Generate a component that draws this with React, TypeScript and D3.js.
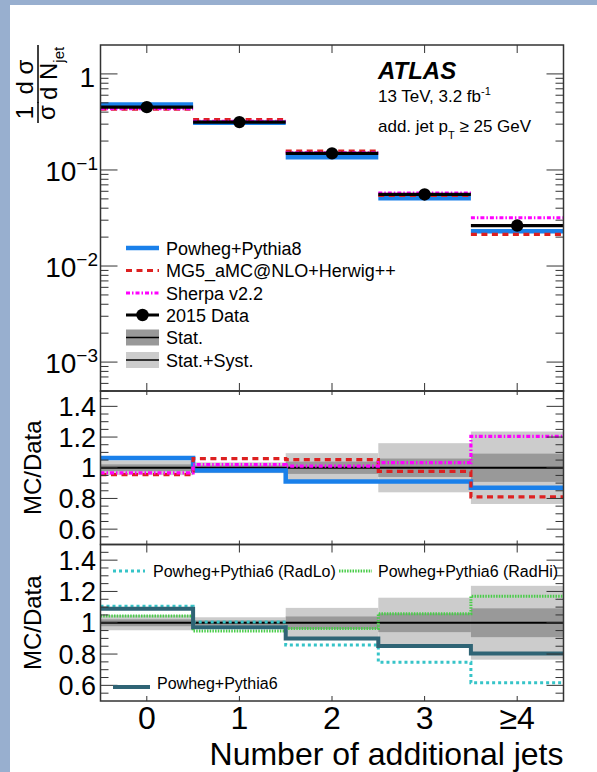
import React from "react";
import * as d3 from "d3";

// ---------------- data ----------------
const bins = ["0", "1", "2", "3", "≥4"];
const binCenters = [0, 1, 2, 3, 4];
const dataValues = [0.451, 0.315, 0.149, 0.0556, 0.0264];
const powhegPythia8Ratio = [1.063, 0.982, 0.911, 0.911, 0.87];
const mg5HerwigRatio = [0.955, 1.06, 1.053, 0.976, 0.81];
const sherpaRatio = [0.966, 1.02, 1.01, 1.034, 1.205];
const statUnc = [0.022, 0.015, 0.04, 0.06, 0.092];
const totalUnc = [0.048, 0.035, 0.095, 0.16, 0.236];
const powhegPythia6Ratio = [1.09, 0.972, 0.9, 0.851, 0.803];
const radLoRatio = [1.105, 1.004, 0.858, 0.747, 0.617];
const radHiRatio = [1.043, 0.947, 0.963, 1.057, 1.17];
const topYTicks = [1, 0.1, 0.01, 0.001];
const topYTickExp = ["", "−1", "−2", "−3"];
const ratioTicks = [0.6, 0.8, 1, 1.2, 1.4];
const ratioTickLabels = ["0.6", "0.8", "1", "1.2", "1.4"];

// ---------------- styles ----------------
const FONT = "'Liberation Sans', Arial, Helvetica, sans-serif";
const C_BLUE = "#1a80ea";
const C_RED = "#dd2020";
const C_MAG = "#ff00ff";
const C_TEAL = "#2f6475";
const C_CYAN = "#36c4c8";
const C_GREEN = "#48cc48";
const C_STAT = "#999999";
const C_SYST = "#cccccc";
const AX = "#333333";

const X0 = 100.5;
const X1 = 563.5;
const TOP = [45, 391];
const MID = [391, 544.5];
const BOT = [544.5, 701];

const x = d3.scaleLinear().domain([-0.5, 4.5]).range([X0, X1]);
const yTop = d3.scaleLog().domain([5e-4, 2]).range([TOP[1], TOP[0]]);
const yMid = d3.scaleLinear().domain([0.5, 1.5]).range([MID[1], MID[0]]);
const yBot = d3.scaleLinear().domain([0.5, 1.5]).range([BOT[1], BOT[0]]);

const logTicks: { v: number; major: boolean }[] = [];
for (let e = -4; e <= 0; e++) {
  for (let k = 1; k <= 9; k++) {
    const v = k * Math.pow(10, e);
    if (v >= 5e-4 && v < 2) logTicks.push({ v, major: k === 1 });
  }
}
const linTicks: { v: number; major: boolean }[] = [];
for (let i = 11; i <= 29; i++) linTicks.push({ v: i * 0.05, major: i % 4 === 0 });

function stepPath(vals: number[], y: (v: number) => number) {
  const pts: [number, number][] = vals.map((v, i) => [x(binCenters[i] - 0.5), y(v)]);
  pts.push([x(binCenters[vals.length - 1] + 0.5), y(vals[vals.length - 1])]);
  return d3.line().curve(d3.curveStepAfter)(pts) || "";
}

function YTicks({ ticks, y, y0, y1 }: { ticks: { v: number; major: boolean }[]; y: (v: number) => number; y0: number; y1: number }) {
  return (
    <g stroke={AX} strokeWidth={1}>
      {ticks.map((t, i) => {
        const yy = y(t.v);
        if (yy < y0 || yy > y1) return null;
        const L = t.major ? 17 : 8;
        return (
          <g key={i}>
            <line x1={X0} x2={X0 + L} y1={yy} y2={yy} />
            <line x1={X1} x2={X1 - L} y1={yy} y2={yy} />
          </g>
        );
      })}
    </g>
  );
}

function XTicks({ y0, y1, lTop, lBot }: { y0: number; y1: number; lTop: number; lBot: number }) {
  return (
    <g stroke={AX} strokeWidth={1}>
      {binCenters.map((b) => (
        <g key={b}>
          <line x1={x(b)} x2={x(b)} y1={y0} y2={y0 + lTop} />
          <line x1={x(b)} x2={x(b)} y1={y1} y2={y1 - lBot} />
        </g>
      ))}
    </g>
  );
}

function Bands({ y }: { y: (v: number) => number }) {
  return (
    <g>
      {binCenters.map((b, i) => (
        <rect key={"s" + i} x={x(b - 0.5)} width={x(b + 0.5) - x(b - 0.5)} y={y(1 + totalUnc[i])} height={y(1 - totalUnc[i]) - y(1 + totalUnc[i])} fill={C_SYST} />
      ))}
      {binCenters.map((b, i) => (
        <rect key={"t" + i} x={x(b - 0.5)} width={x(b + 0.5) - x(b - 0.5)} y={y(1 + statUnc[i])} height={y(1 - statUnc[i]) - y(1 + statUnc[i])} fill={C_STAT} />
      ))}
      <line x1={X0} x2={X1} y1={y(1)} y2={y(1)} stroke="#000" strokeWidth={2} />
    </g>
  );
}

function RatioLabels({ y }: { y: (v: number) => number }) {
  return (
    <g fontFamily={FONT} fontSize={27} textAnchor="end" fill="#000">
      {ratioTicks.map((t, i) => (
        <text key={i} x={96} y={y(t) + 9.5}>
          {ratioTickLabels[i]}
        </text>
      ))}
    </g>
  );
}

export default function App() {
  const dash = { red: "6,4.5", mag: "4,2,1.5,2", cyan: "3,3", green: "1.5,1.2" };
  return (
    <svg width={597} height={772} style={{ position: "absolute", left: 0, top: 0, display: "block" }} fontFamily={FONT}>
      <rect x={0} y={0} width={597} height={772} fill="#fff" />
      <rect x={0} y={0} width={10} height={772} fill="#98afcf" />
      <rect x={0} y={0} width={597} height={5} fill="#98afcf" />

      {/* ---------- TOP PANEL ---------- */}
      <g>
        {[
          { r: powhegPythia8Ratio, c: C_BLUE, w: 4.5, d: undefined },
          { r: mg5HerwigRatio, c: C_RED, w: 3.2, d: dash.red },
          { r: sherpaRatio, c: C_MAG, w: 3.2, d: dash.mag },
        ].map((s, k) => (
          <g key={k}>
            {binCenters.map((b, i) => (
              <line key={i} x1={x(b - 0.5)} x2={x(b + 0.5)} y1={yTop(s.r[i] * dataValues[i])} y2={yTop(s.r[i] * dataValues[i])} stroke={s.c} strokeWidth={s.w} strokeDasharray={s.d} />
            ))}
          </g>
        ))}
        {binCenters.map((b, i) => (
          <line key={"d" + i} x1={x(b - 0.5)} x2={x(b + 0.5)} y1={yTop(dataValues[i])} y2={yTop(dataValues[i])} stroke="#000" strokeWidth={3.2} />
        ))}
        {binCenters.map((b, i) => (
          <circle key={"c" + i} cx={x(b)} cy={yTop(dataValues[i])} r={6.2} fill="#000" />
        ))}
        <rect x={X0} y={TOP[0]} width={X1 - X0} height={TOP[1] - TOP[0]} fill="none" stroke={AX} strokeWidth={1.5} />
        <YTicks ticks={logTicks} y={yTop} y0={TOP[0]} y1={TOP[1]} />
        <XTicks y0={TOP[0]} y1={TOP[1]} lTop={8} lBot={8} />
        <g fontSize={28} textAnchor="end" fill="#000">
          {topYTicks.map((t, i) =>
            i === 0 ? (
              <text key={i} x={95} y={yTop(t) + 13}>
                1
              </text>
            ) : (
              <text key={i} x={98} y={yTop(t) + 11}>
                10
                <tspan fontSize={19} dy={-11}>
                  {topYTickExp[i]}
                </tspan>
              </text>
            )
          )}
        </g>

        {/* y title: 1/sigma dsigma/dN_jet */}
        <g transform="translate(38,124) rotate(-90)" fill="#000" fontSize={24}>
          <text x={11.5} y={-5} textAnchor="middle">1</text>
          <line x1={1} x2={22} y1={0} y2={0} stroke="#000" strokeWidth={1.5} />
          <text x={11.5} y={17} textAnchor="middle">σ</text>
          <text x={47} y={-5} textAnchor="middle">d σ</text>
          <line x1={21} x2={79} y1={0} y2={0} stroke="#000" strokeWidth={1.5} />
          <text x={24} y={19}>
            d N<tspan fontSize={15} dy={7}>jet</tspan>
          </text>
        </g>

        {/* ATLAS label */}
        <text x={378} y={79} fontSize={24} fontWeight="bold" fontStyle="italic" fill="#000">
          ATLAS
        </text>
        <text x={378} y={102} fontSize={17} fill="#000">
          13 TeV, 3.2 fb<tspan fontSize={11} dy={-7}>-1</tspan>
        </text>
        <text x={378} y={132} fontSize={17} fill="#000">
          add. jet p<tspan fontSize={11} dy={7}>T</tspan>
          <tspan dy={-7}> ≥ 25 GeV</tspan>
        </text>

        {/* legend */}
        <g fontSize={18} fill="#000">
          {(() => {
            const rows = [248, 270.5, 293, 315, 337.5, 360];
            const lx0 = 126;
            const lx1 = 159;
            const tx = 166;
            return (
              <g>
                <line x1={lx0} x2={lx1} y1={rows[0]} y2={rows[0]} stroke={C_BLUE} strokeWidth={4.5} />
                <line x1={lx0} x2={lx1} y1={rows[1]} y2={rows[1]} stroke={C_RED} strokeWidth={3.2} strokeDasharray={dash.red} />
                <line x1={lx0} x2={lx1} y1={rows[2]} y2={rows[2]} stroke={C_MAG} strokeWidth={3.2} strokeDasharray={dash.mag} />
                <line x1={lx0} x2={lx1} y1={rows[3]} y2={rows[3]} stroke="#000" strokeWidth={3.2} />
                <circle cx={(lx0 + lx1) / 2} cy={rows[3]} r={6.2} fill="#000" />
                <rect x={lx0} y={rows[4] - 8} width={lx1 - lx0} height={16} fill={C_STAT} />
                <line x1={lx0} x2={lx1} y1={rows[4]} y2={rows[4]} stroke="#000" strokeWidth={1.5} />
                <rect x={lx0} y={rows[5] - 8} width={lx1 - lx0} height={16} fill={C_SYST} />
                <line x1={lx0} x2={lx1} y1={rows[5]} y2={rows[5]} stroke="#000" strokeWidth={1.5} />
                <text x={tx} y={rows[0] + 6.5}>Powheg+Pythia8</text>
                <text x={tx} y={rows[1] + 6.5}>MG5_aMC@NLO+Herwig++</text>
                <text x={tx} y={rows[2] + 6.5}>Sherpa v2.2</text>
                <text x={tx} y={rows[3] + 6.5}>2015 Data</text>
                <text x={tx} y={rows[4] + 6.5}>Stat.</text>
                <text x={tx} y={rows[5] + 6.5}>Stat.+Syst.</text>
              </g>
            );
          })()}
        </g>
      </g>

      {/* ---------- MIDDLE PANEL ---------- */}
      <g>
        <Bands y={yMid} />
        <path d={stepPath(powhegPythia8Ratio, yMid)} fill="none" stroke={C_BLUE} strokeWidth={4.5} />
        <path d={stepPath(mg5HerwigRatio, yMid)} fill="none" stroke={C_RED} strokeWidth={3.2} strokeDasharray={dash.red} />
        <path d={stepPath(sherpaRatio, yMid)} fill="none" stroke={C_MAG} strokeWidth={3.2} strokeDasharray={dash.mag} />
        <rect x={X0} y={MID[0]} width={X1 - X0} height={MID[1] - MID[0]} fill="none" stroke={AX} strokeWidth={1.5} />
        <YTicks ticks={linTicks} y={yMid} y0={MID[0]} y1={MID[1]} />
        <XTicks y0={MID[0]} y1={MID[1]} lTop={4} lBot={4} />
        <RatioLabels y={yMid} />
        <text transform={`translate(41,${(MID[0] + MID[1]) / 2}) rotate(-90)`} textAnchor="middle" fontSize={24} fill="#000">
          MC/Data
        </text>
      </g>

      {/* ---------- BOTTOM PANEL ---------- */}
      <g>
        <Bands y={yBot} />
        <path d={stepPath(radLoRatio, yBot)} fill="none" stroke={C_CYAN} strokeWidth={3} strokeDasharray={dash.cyan} />
        <path d={stepPath(radHiRatio, yBot)} fill="none" stroke={C_GREEN} strokeWidth={3} strokeDasharray={dash.green} />
        <path d={stepPath(powhegPythia6Ratio, yBot)} fill="none" stroke={C_TEAL} strokeWidth={4} />
        <rect x={X0} y={BOT[0]} width={X1 - X0} height={BOT[1] - BOT[0]} fill="none" stroke={AX} strokeWidth={1.5} />
        <YTicks ticks={linTicks} y={yBot} y0={BOT[0]} y1={BOT[1]} />
        <XTicks y0={BOT[0]} y1={BOT[1]} lTop={8} lBot={5} />
        <RatioLabels y={yBot} />
        <text transform={`translate(41,${(BOT[0] + BOT[1]) / 2}) rotate(-90)`} textAnchor="middle" fontSize={24} fill="#000">
          MC/Data
        </text>

        {/* bottom legend */}
        <g fontSize={16} fill="#000">
          <line x1={113} x2={145} y1={571} y2={571} stroke={C_CYAN} strokeWidth={3} strokeDasharray={dash.cyan} />
          <text x={153} y={576.5}>Powheg+Pythia6 (RadLo)</text>
          <line x1={339} x2={372} y1={571} y2={571} stroke={C_GREEN} strokeWidth={3} strokeDasharray={dash.green} />
          <text x={378} y={576.5}>Powheg+Pythia6 (RadHi)</text>
          <line x1={113} x2={150} y1={687} y2={687} stroke={C_TEAL} strokeWidth={4} />
          <text x={157} y={689}>Powheg+Pythia6</text>
        </g>

        {/* x labels */}
        <g fontSize={32} textAnchor="middle" fill="#000">
          {binCenters.map((b, i) => (
            <text key={i} x={x(b)} y={729}>
              {bins[i]}
            </text>
          ))}
        </g>
        <text x={X1} y={765} fontSize={32} textAnchor="end" fill="#000">
          Number of additional jets
        </text>
      </g>
    </svg>
  );
}
